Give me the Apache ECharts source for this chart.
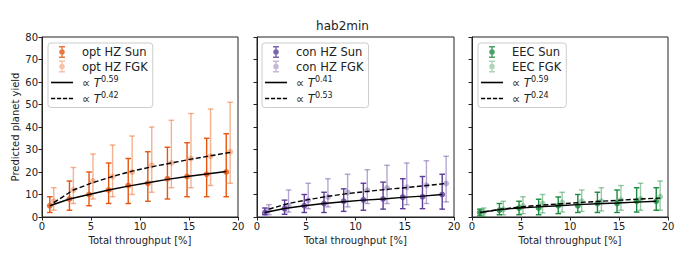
<!DOCTYPE html>
<html>
<head>
<meta charset="utf-8">
<script src="https://cdn.jsdelivr.net/npm/echarts@6/dist/echarts.min.js"></script>
<style>
html,body{margin:0;padding:0;background:#fff;}
#chart{width:685px;height:257px;}
</style>
</head>
<body>
<div id="chart"></div>
<script>
// ---- data ----
const xSun = [0.8, 2.8, 4.8, 6.8, 8.8, 10.8, 12.8, 14.8, 16.8, 18.8];
const xFgk = [1.2, 3.2, 5.2, 7.2, 9.2, 11.2, 13.2, 15.2, 17.2, 19.2];

const optSun   = [5, 8, 10, 12, 14, 15, 17, 18, 19, 20];
const optSunLo = [2, 3, 5, 6, 6, 7, 8, 9, 9, 9];
const optSunHi = [9, 16, 20, 24, 26, 29, 31, 33, 35, 37];
const optFgk   = [7, 12, 16, 18, 20, 23, 24, 26, 27, 29];
const optFgkLo = [3, 6, 8, 9, 10, 11, 13, 13, 14, 15];
const optFgkHi = [13, 22, 28, 32, 36, 40, 43, 46, 48, 51];
const optFitSun = [5, 8, 10, 12, 13.7, 15.2, 16.7, 18, 19.1, 20.2];
const optFitFgk = [6.4, 12, 15.3, 18, 20.4, 22.3, 24, 25.7, 27.2, 28.7];

const conSun   = [2, 3.7, 5, 6, 7, 7.6, 8, 8.8, 9, 10];
const conSunLo = [1, 1.2, 2, 2, 2.5, 3, 3.5, 3.7, 3.7, 3.5];
const conSunHi = [4, 7.5, 10, 11, 12.5, 15, 15.5, 17, 18, 19];
const conFgk   = [3, 5, 7.4, 8.9, 10.9, 11.9, 12.9, 13.2, 14.1, 14.9];
const conFgkLo = [1, 2.2, 3.7, 4.5, 4.5, 6, 6, 5.5, 6, 6.7];
const conFgkHi = [5.5, 12, 15, 17, 19, 21, 23, 24, 25, 27];
const conFitSun = [2, 3.8, 5, 6, 6.8, 7.5, 8, 8.7, 9.3, 10];
const conFitFgk = [3.5, 6, 7.7, 9.2, 10.4, 11.4, 12.3, 13.1, 14, 14.9];

const eecSun   = [2, 3, 4, 4, 5, 5, 6, 6, 7, 7];
const eecSunLo = [0.5, 1, 1, 1, 1.5, 2, 2, 2, 2.2, 3];
const eecSunHi = [3.5, 6, 7, 7.9, 8.9, 10, 11, 12, 13, 13];
const eecFgk   = [2.2, 3.4, 4.9, 6, 6.4, 7, 7, 7.5, 8, 9];
const eecFgkLo = [0.3, 1, 1.5, 1.8, 2.2, 2.5, 2.7, 3, 3, 3];
const eecFgkHi = [4, 7, 9, 10, 11, 12, 13, 14, 15, 16];
const eecFitSun = [2, 3.3, 4, 4.5, 5, 5.5, 5.9, 6.2, 6.6, 7];
const eecFitFgk = [2.3, 3.6, 4.6, 5.3, 5.9, 6.5, 7, 7.5, 8, 8.4];

const xTicks = [0, 5, 10, 15, 20];
const yTicks = [0, 10, 20, 30, 40, 50, 60, 70, 80];

const panels = [
  {sunName:'opt HZ Sun', fgkName:'opt HZ FGK', sun:optSun, sunLo:optSunLo, sunHi:optSunHi,
   fgk:optFgk, fgkLo:optFgkLo, fgkHi:optFgkHi, fitSun:optFitSun, fitFgk:optFitFgk,
   expSun:'0.59', expFgk:'0.42', color:'#e6550d', light:'rgba(230,85,13,0.45)'},
  {sunName:'con HZ Sun', fgkName:'con HZ FGK', sun:conSun, sunLo:conSunLo, sunHi:conSunHi,
   fgk:conFgk, fgkLo:conFgkLo, fgkHi:conFgkHi, fitSun:conFitSun, fitFgk:conFitFgk,
   expSun:'0.41', expFgk:'0.53', color:'#5e3c99', light:'rgba(94,60,153,0.45)'},
  {sunName:'EEC Sun', fgkName:'EEC FGK', sun:eecSun, sunLo:eecSunLo, sunHi:eecSunHi,
   fgk:eecFgk, fgkLo:eecFgkLo, fgkHi:eecFgkHi, fitSun:eecFitSun, fitFgk:eecFitFgk,
   expSun:'0.59', expFgk:'0.24', color:'#1a8a3e', light:'rgba(26,138,62,0.45)'}
];

const FONT = 'DejaVu Sans';
const gridPos = [{left:42, width:196}, {left:257, width:197}, {left:472, width:196}];
const legendLeft = [48, 262, 478];

const errIcon = 'path://M3,0H9V1.4H3Z M5.3,0H6.7V12H5.3Z M3,10.6H9V12H3Z M6,3.2A2.8,2.8 0 1,1 5.99,3.2Z';
const solidIcon = 'path://M0,0H21V1.5H0Z';
const dashIcon = 'path://M0,0H4V1.5H0Z M5.7,0H9.7V1.5H5.7Z M11.4,0H15.4V1.5H11.4Z M17,0H21V1.5H17Z';

const grids = [], xAxes = [], yAxes = [], series = [], legends = [];
const fitLabels = {};

function errRender(color) {
  return function (params, api) {
    const x = api.value(0), lo = api.value(1), hi = api.value(2);
    const a = api.coord([x, lo]), b = api.coord([x, hi]);
    const cw = 2.8;
    const st = {stroke: color, lineWidth: 1.4};
    return {type:'group', children:[
      {type:'line', shape:{x1:a[0], y1:a[1], x2:b[0], y2:b[1]}, style:st},
      {type:'line', shape:{x1:a[0]-cw, y1:a[1], x2:a[0]+cw, y2:a[1]}, style:st},
      {type:'line', shape:{x1:b[0]-cw, y1:b[1], x2:b[0]+cw, y2:b[1]}, style:st}
    ]};
  };
}

panels.forEach((p, i) => {
  grids.push({left:gridPos[i].left, width:gridPos[i].width, top:37, height:180,
    show:true, borderColor:'#222', borderWidth:1, backgroundColor:'transparent'});
  xAxes.push({gridIndex:i, type:'value', min:xTicks[0], max:xTicks[xTicks.length-1], interval:5,
    name:'Total throughput [%]', nameLocation:'middle', nameGap:16,
    nameTextStyle:{fontFamily:FONT, fontSize:10, color:'#222'},
    axisLine:{show:true, lineStyle:{color:'#222', width:1}},
    axisTick:{show:true, length:3.5, lineStyle:{color:'#222'}},
    axisLabel:{fontFamily:FONT, fontSize:10, color:'#222', margin:4},
    splitLine:{show:false}});
  yAxes.push({gridIndex:i, type:'value', min:yTicks[0], max:yTicks[yTicks.length-1], interval:10,
    name: i === 0 ? 'Predicted planet yield' : '', nameLocation:'middle', nameGap:22,
    nameTextStyle:{fontFamily:FONT, fontSize:10, color:'#222'},
    axisLine:{show:true, lineStyle:{color:'#222', width:1}},
    axisTick:{show:true, length:3.5, lineStyle:{color:'#222'}},
    axisLabel:{show: i === 0, fontFamily:FONT, fontSize:10, color:'#222', margin:4},
    splitLine:{show:false}});

  const sunErr = xSun.map((x, k) => [x, p.sunLo[k], p.sunHi[k]]);
  const fgkErr = xFgk.map((x, k) => [x, p.fgkLo[k], p.fgkHi[k]]);
  series.push({type:'custom', xAxisIndex:i, yAxisIndex:i, renderItem:errRender(p.color),
    encode:{x:0, y:[1,2]}, data:sunErr, z:2, silent:true});
  series.push({type:'custom', xAxisIndex:i, yAxisIndex:i, renderItem:errRender(p.light),
    encode:{x:0, y:[1,2]}, data:fgkErr, z:2, silent:true});
  series.push({name:p.sunName, type:'scatter', xAxisIndex:i, yAxisIndex:i, symbol:'circle', symbolSize:6,
    itemStyle:{color:p.color}, data:xSun.map((x, k) => [x, p.sun[k]]), z:3});
  series.push({name:p.fgkName, type:'scatter', xAxisIndex:i, yAxisIndex:i, symbol:'circle', symbolSize:6,
    itemStyle:{color:p.light}, data:xFgk.map((x, k) => [x, p.fgk[k]]), z:3});
  const nS = 'fitSun' + i, nF = 'fitFgk' + i;
  fitLabels[nS] = p.expSun; fitLabels[nF] = p.expFgk;
  series.push({name:nS, type:'line', xAxisIndex:i, yAxisIndex:i, symbol:'none', showSymbol:false,
    lineStyle:{color:'#000', width:1.4, type:'solid'}, itemStyle:{color:'#000'},
    data:xSun.map((x, k) => [x, p.fitSun[k]]), z:4});
  series.push({name:nF, type:'line', xAxisIndex:i, yAxisIndex:i, symbol:'none', showSymbol:false,
    lineStyle:{color:'#000', width:1.4, type:[5, 2.5]}, itemStyle:{color:'#000'},
    data:xFgk.map((x, k) => [x, p.fitFgk[k]]), z:4});

  legends.push({
    left:legendLeft[i], top:43, orient:'vertical',
    data:[{name:p.sunName, icon:errIcon}, {name:p.fgkName, icon:errIcon},
          {name:nS, icon:solidIcon}, {name:nF, icon:dashIcon}],
    itemWidth:22, itemHeight:12, itemGap:2.5,
    padding:[3, 5, 3, 3],
    borderColor:'#cccccc', borderWidth:1, borderRadius:3,
    backgroundColor:'rgba(255,255,255,0.8)',
    selectedMode:false,
    textStyle:{fontFamily:FONT, fontSize:11.5, color:'#222',
      rich:{
        n:{fontFamily:FONT, fontSize:11.5, color:'#222', padding:[0,0,0,4]},
        p:{fontFamily:FONT, fontSize:11.5, color:'#222', padding:[0,0,0,4]},
        t:{fontFamily:FONT, fontSize:11.5, fontStyle:'italic', color:'#222'},
        s:{fontFamily:FONT, fontSize:8, color:'#222', padding:[0,0,7,0]}
      }},
    formatter: function (name) {
      if (fitLabels[name] !== undefined) {
        return '{p|\u221D }{t|T}{s|' + fitLabels[name] + '}';
      }
      return '{n|' + name + '}';
    }
  });
});

const chart = echarts.init(document.getElementById('chart'), null, {renderer:'svg', width:685, height:257});
chart.setOption({
  animation:false,
  backgroundColor:'#fff',
  title:{text:'hab2min', left:'center', top:15, textStyle:{fontFamily:FONT, fontSize:12, fontWeight:'normal', color:'#222'}},
  grid:grids, xAxis:xAxes, yAxis:yAxes, legend:legends, series:series
});
</script>
</body>
</html>
